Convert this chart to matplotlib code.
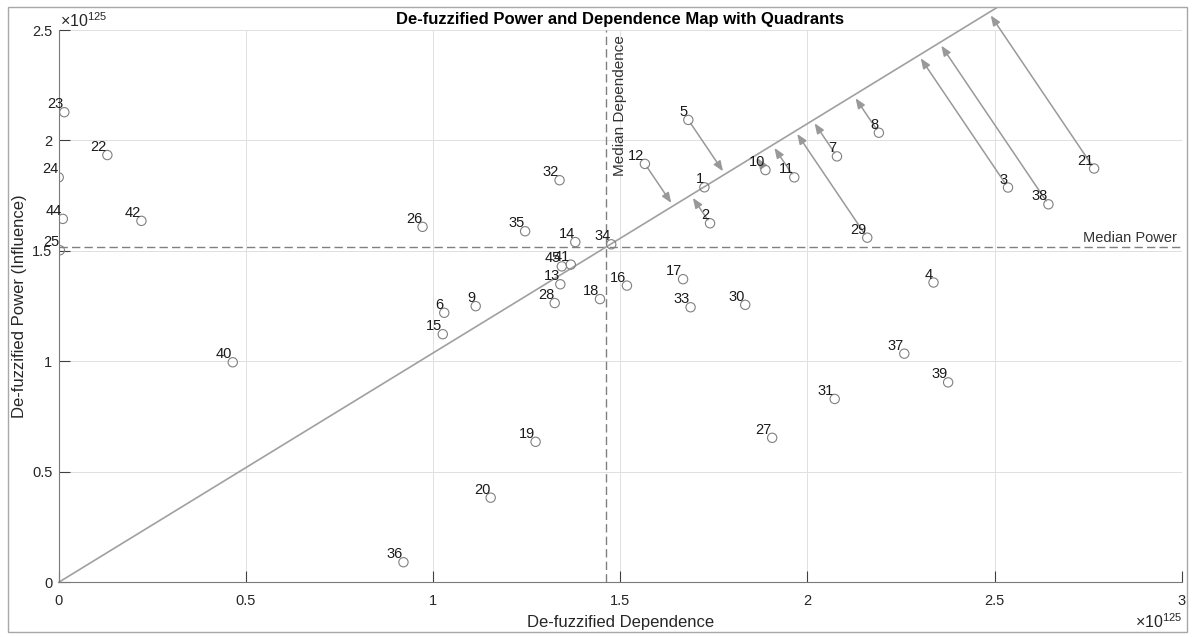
import matplotlib
matplotlib.use('Agg')
import matplotlib.pyplot as plt
from matplotlib.patches import Rectangle
from matplotlib.ticker import FuncFormatter
from matplotlib import transforms
import numpy as np

# Valores en unidades de 1e125
labels = [1, 2, 3, 4, 5, 6, 7, 8, 9, 10,
          11, 12, 13, 14, 15, 16, 17, 18, 19, 20,
          21, 22, 23, 24, 25, 26, 27, 28, 29, 30,
          31, 32, 33, 34, 35, 36, 37, 38, 39, 40,
          41, 42, 44, 45]
dependence = [1.725, 1.740, 2.536, 2.337, 1.682, 1.030, 2.079, 2.191, 1.114, 1.888,
              1.965, 1.566, 1.340, 1.380, 1.026, 1.518, 1.668, 1.446, 1.274, 1.154,
              2.766, 0.130, 0.015, 0.000, 0.003, 0.972, 1.906, 1.325, 2.160, 1.834,
              2.073, 1.338, 1.688, 1.476, 1.246, 0.921, 2.259, 2.644, 2.376, 0.465,
              1.368, 0.221, 0.011, 1.344]
power = [1.788, 1.625, 1.787, 1.357, 2.093, 1.220, 1.928, 2.035, 1.250, 1.866,
         1.833, 1.894, 1.349, 1.540, 1.123, 1.343, 1.372, 1.282, 0.636, 0.383,
         1.873, 1.934, 2.128, 1.833, 1.503, 1.609, 0.654, 1.264, 1.560, 1.256,
         0.830, 1.820, 1.245, 1.530, 1.589, 0.091, 1.035, 1.711, 0.905, 0.996,
         1.438, 1.636, 1.645, 1.430]

x_ticks = [0, 0.5, 1, 1.5, 2, 2.5, 3]
y_ticks = [0, 0.5, 1, 1.5, 2, 2.5]
x_limits = (0, 3)
y_limits = (0, 2.5)
exponent_label = '×10$^{125}$'

# la figura original estaba algo estirada en horizontal; las flechas son
# perpendiculares a la diagonal en esa geometria original
stretch = 1.05

plt.rcParams['font.family'] = ['Liberation Sans', 'DejaVu Sans']
plt.rcParams['mathtext.default'] = 'regular'

W, H, DPI = 1196, 637, 100
fig = plt.figure(figsize=(W / DPI, H / DPI), dpi=DPI)
ax = fig.add_axes([58.7 / W, 54.7 / H, 1123 / W, 552.3 / H])

# marco gris de la figura
border = Rectangle((8 / W, 5.3 / H), 1179 / W, 624.4 / H, transform=fig.transFigure,
                   fill=False, edgecolor='#a8a8a8', linewidth=1)
fig.add_artist(border)

ax.set_xlim(x_limits)
ax.set_ylim(y_limits)
ax.set_xticks(x_ticks)
ax.set_yticks(y_ticks)
fmt = FuncFormatter(lambda v, pos: f'{v:g}')
ax.xaxis.set_major_formatter(fmt)
ax.yaxis.set_major_formatter(fmt)

ax.grid(True, color='#e0e0e0', linewidth=0.7)
ax.set_axisbelow(True)
for side in ['top', 'right']:
    ax.spines[side].set_visible(False)
for side in ['left', 'bottom']:
    ax.spines[side].set_color('#7a7a7a')
    ax.spines[side].set_linewidth(0.8)
ax.tick_params(direction='in', length=8, width=0.8, color='#404040',
               labelsize=10.5, labelcolor='#262626')
ax.tick_params(axis='x', pad=8.5)
ax.tick_params(axis='y', pad=4.5)

# medianas
med_dep = np.median(dependence)
med_pow = np.median(power)
ax.axvline(med_dep, color='#808080', linestyle=(0, (6, 3)), linewidth=1, zorder=2)
ax.axhline(med_pow, color='#808080', linestyle=(0, (6, 3)), linewidth=1, zorder=2)

ax.text(med_dep, y_limits[1], 'Median Dependence', rotation=90, ha='left', va='top',
        fontsize=11, color='#333333',
        transform=transforms.offset_copy(ax.transData, fig=fig, x=7, y=-5, units='dots'))
ax.text(x_limits[1], med_pow, 'Median Power', ha='right', va='bottom',
        fontsize=10.5, color='#333333',
        transform=transforms.offset_copy(ax.transData, fig=fig, x=-4.5, y=2, units='dots'))

# diagonal desde el origen a traves del punto de medianas
ratio = med_pow / med_dep
xs = np.array([0, x_limits[1] * 1.2])
diag, = ax.plot(xs, ratio * xs, color='#a0a0a0', linewidth=1.2, zorder=2)
diag.set_clip_path(border)

# puntos y etiquetas
ax.scatter(dependence, power, s=45, facecolors='none', edgecolors='#808080',
           linewidths=0.8, zorder=4)
label_tr = transforms.offset_copy(ax.transData, fig=fig, x=-0.5, y=1, units='dots')
for lab, d, p in zip(labels, dependence, power):
    ax.text(d, p, str(lab), ha='right', va='bottom', fontsize=10.5, color='#1a1a1a',
            transform=label_tr, zorder=5)

# flechas hacia la diagonal (cuadrante superior derecho)
squeeze = np.array([1 / stretch, 1.0])
to_disp = ax.transData
origin = to_disp.transform((0, 0)) * squeeze
direction = to_disp.transform((med_dep, med_pow)) * squeeze - origin
direction = direction / np.hypot(*direction)
for d, p in zip(dependence, power):
    if d > med_dep and p > med_pow:
        pt = to_disp.transform((d, p)) * squeeze
        foot = origin + np.dot(pt - origin, direction) * direction
        if np.hypot(*(pt - foot)) < 4:
            continue
        target = to_disp.inverted().transform(foot / squeeze)
        ax.annotate('', xy=target, xytext=(d, p), annotation_clip=False,
                    arrowprops=dict(arrowstyle='-|>,head_length=0.5,head_width=0.2',
                                    color='#999999', lw=1.1, shrinkA=3, shrinkB=2.5,
                                    mutation_scale=12), zorder=3)

ax.set_title('De-fuzzified Power and Dependence Map with Quadrants',
             fontsize=12, fontweight='bold', pad=4.3)
ax.set_xlabel('De-fuzzified Dependence', fontsize=12, color='#262626')
ax.set_ylabel('De-fuzzified Power (Influence)', fontsize=12, color='#262626')
ax.xaxis.set_label_coords(0.5, -0.0601)
ax.yaxis.set_label_coords(-0.0281, 0.5)

ax.text(0, 1, exponent_label, ha='left', va='baseline', fontsize=11.5, color='#262626',
        transform=transforms.offset_copy(ax.transAxes, fig=fig, x=1, y=3.3, units='dots'))
ax.text(1, 0, exponent_label, ha='right', va='baseline', fontsize=11.5, color='#262626',
        transform=transforms.offset_copy(ax.transAxes, fig=fig, x=1, y=-46, units='dots'))

fig.savefig('out.png', dpi=DPI)
